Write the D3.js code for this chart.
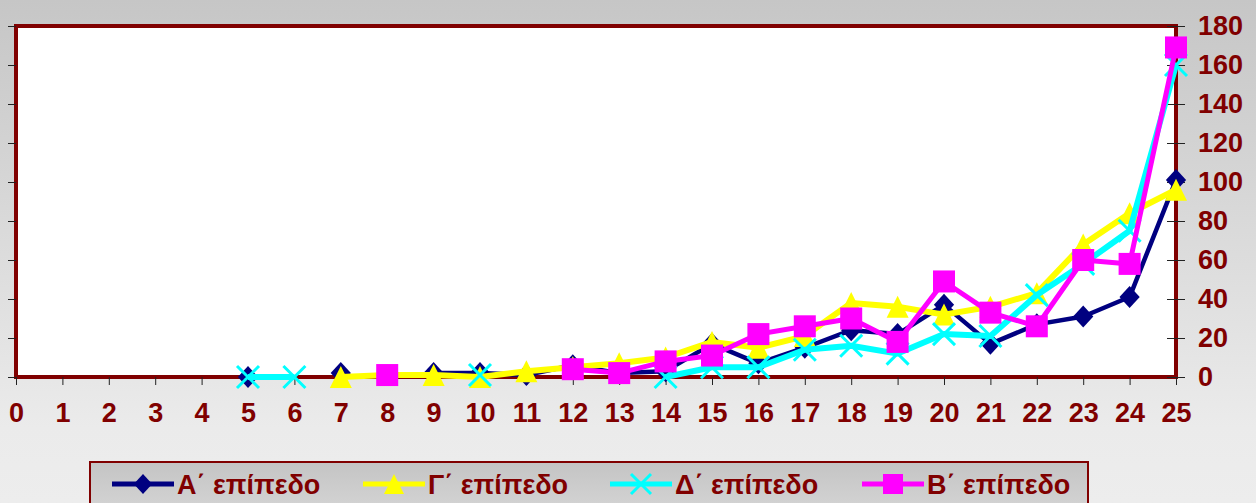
<!DOCTYPE html>
<html>
<head>
<meta charset="utf-8">
<script src="https://cdn.jsdelivr.net/npm/d3@7"></script>
<style>
  body { margin: 0; overflow: hidden; }
  text { font-family: "Liberation Sans", Arial, sans-serif; font-weight: bold; fill: #800000; }
</style>
</head>
<body>
<script>
// x categories (days) and y tick labels
var xCategories = [0,1,2,3,4,5,6,7,8,9,10,11,12,13,14,15,16,17,18,19,20,21,22,23,24,25];
var yTicks = [0,20,40,60,80,100,120,140,160,180];

// series values, null = no value (gap in the line)
var levelA = [null,null,null,null,null,0,null,2,null,2,2,1,6,2,3,17,7,15,24,22,37,17,27,31,41,101];
var levelG = [null,null,null,null,null,null,null,0,1,1,0,3,5,7,10,18,15,21,38,36,32,36,43,68,84,96];
var levelD = [null,null,null,null,null,0,0,null,null,null,1,null,null,null,0,5,5,14,16,12,22,21,42,58,75,160];
var levelB = [null,null,null,null,null,null,null,null,1,null,null,null,4,2,8,11,22,26,30,18,49,33,26,60,58,169];

var seriesNames = ["Α΄ επίπεδο", "Γ΄ επίπεδο", "Δ΄ επίπεδο", "Β΄ επίπεδο"];
var seriesColors = ["#000080", "#ffff00", "#00ffff", "#ff00ff"];

var W = 1256, H = 503;
var svg = d3.select("body").append("svg").attr("width", W).attr("height", H);

// background gradients
var defs = svg.append("defs");
var bg = defs.append("linearGradient").attr("id", "bg").attr("x1", 0).attr("y1", 0).attr("x2", 0).attr("y2", 1);
bg.append("stop").attr("offset", "0%").attr("stop-color", "#c6c6c6");
bg.append("stop").attr("offset", "85%").attr("stop-color", "#ebebeb");
bg.append("stop").attr("offset", "100%").attr("stop-color", "#ededed");
var lg = defs.append("linearGradient").attr("id", "lg").attr("x1", 0).attr("y1", 0).attr("x2", 0).attr("y2", 1);
lg.append("stop").attr("offset", "0%").attr("stop-color", "#c4c4c4");
lg.append("stop").attr("offset", "100%").attr("stop-color", "#d8d8d8");

svg.append("rect").attr("width", W).attr("height", H).attr("fill", "url(#bg)");

var plotL = 16, plotR = 1176, plotT = 26, plotB = 377;
var x = d3.scaleLinear().domain([0, 25]).range([plotL, plotR]);
var y = d3.scaleLinear().domain([0, 180]).range([plotB, plotT]);

// plot area
svg.append("rect").attr("x", plotL).attr("y", plotT).attr("width", plotR - plotL).attr("height", plotB - plotT)
  .attr("fill", "#fff").attr("stroke", "#800000").attr("stroke-width", 4);

// left axis: ticks only
var leftAxis = svg.append("g").attr("transform", "translate(" + plotL + ",0)")
  .call(d3.axisLeft(y).tickValues(yTicks).tickSize(8).tickFormat(""));
leftAxis.select(".domain").remove();
leftAxis.selectAll("line").attr("stroke", "#222");

// bottom axis
var bottomAxis = svg.append("g").attr("transform", "translate(0," + plotB + ")")
  .call(d3.axisBottom(x).tickValues(xCategories).tickSize(8).tickPadding(18).tickFormat(d3.format("d")));
bottomAxis.select(".domain").remove();
bottomAxis.selectAll("line").attr("stroke", "#222");
bottomAxis.selectAll("text").attr("font-size", 27).attr("fill", "#800000")
  .attr("font-family", "'Liberation Sans', Arial, sans-serif").attr("font-weight", "bold");

// right axis with labels
var rightAxis = svg.append("g").attr("transform", "translate(" + plotR + ",0)")
  .call(d3.axisRight(y).tickValues(yTicks).tickSize(9).tickPadding(13));
rightAxis.select(".domain").remove();
rightAxis.selectAll("line").attr("stroke", "#222").attr("x1", -9);
rightAxis.selectAll("text").attr("font-size", 27).attr("fill", "#800000")
  .attr("font-family", "'Liberation Sans', Arial, sans-serif").attr("font-weight", "bold");

// marker shapes
function marker(g, i, s) {
  var c = seriesColors[i];
  if (i === 0) {
    g.append("path").attr("d", "M0," + (-s) + "L" + (s * 0.92) + ",0L0," + s + "L" + (-s * 0.92) + ",0Z").attr("fill", c);
  } else if (i === 1) {
    g.append("path").attr("d", "M0," + (-s) + "L" + s + "," + s + "L" + (-s) + "," + s + "Z").attr("fill", c);
  } else if (i === 2) {
    g.append("path").attr("d", "M" + (-s) + "," + (-s) + "L" + s + "," + s + "M" + s + "," + (-s) + "L" + (-s) + "," + s)
      .attr("stroke", c).attr("stroke-width", 3).attr("fill", "none");
  } else {
    g.append("rect").attr("x", -s).attr("y", -s).attr("width", 2 * s).attr("height", 2 * s).attr("fill", c);
  }
}

var allSeries = [levelA, levelG, levelD, levelB];
var widths = [4.5, 6, 6, 5];

allSeries.forEach(function (vals, i) {
  var pts = vals.map(function (v, k) { return { x: xCategories[k], v: v }; });
  var line = d3.line().defined(function (d) { return d.v !== null; })
    .x(function (d) { return x(d.x); }).y(function (d) { return y(d.v); });
  svg.append("path").datum(pts).attr("d", line).attr("fill", "none")
    .attr("stroke", seriesColors[i]).attr("stroke-width", widths[i]).attr("stroke-linejoin", "round");
  pts.filter(function (d) { return d.v !== null; }).forEach(function (d) {
    var g = svg.append("g").attr("transform", "translate(" + x(d.x) + "," + y(d.v) + ")");
    marker(g, i, 11);
  });
});

// legend
svg.append("rect").attr("x", 90).attr("y", 462).attr("width", 998).attr("height", 60)
  .attr("fill", "url(#lg)").attr("stroke", "#800000").attr("stroke-width", 2);
var legX = [112, 363, 610, 862];
seriesNames.forEach(function (name, i) {
  var g = svg.append("g").attr("transform", "translate(" + legX[i] + ",484)");
  g.append("line").attr("x1", 0).attr("x2", 62).attr("stroke", seriesColors[i]).attr("stroke-width", 5);
  var m = g.append("g").attr("transform", "translate(31,0)");
  marker(m, i, 10);
  g.append("text").attr("x", 65).attr("y", 10).attr("font-size", 27).text(name);
});
</script>
</body>
</html>
